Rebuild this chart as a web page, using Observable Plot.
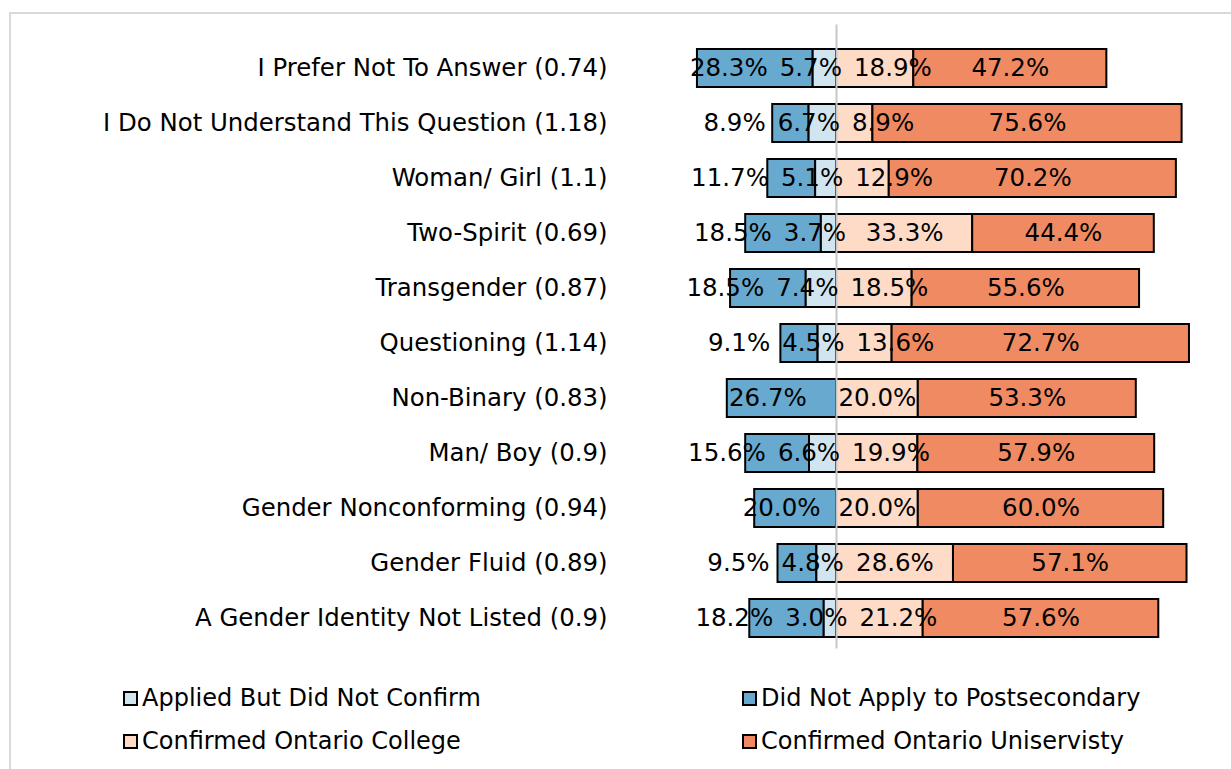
<!DOCTYPE html>
<html><head><meta charset="utf-8">
<script src="https://cdn.jsdelivr.net/npm/d3@7"></script>
<script src="https://cdn.jsdelivr.net/npm/@observablehq/plot@0.6"></script>
<style>
body{margin:0;background:#fff;font-family:"DejaVu Sans",Verdana,sans-serif;}
#frame{position:absolute;left:9px;top:12px;width:1400px;height:900px;border-top:2px solid #d9d9d9;border-left:2px solid #d9d9d9;}
#chart{position:absolute;left:0;top:0;}
.leg{position:absolute;font-size:24px;line-height:28px;color:#000;display:flex;align-items:center;white-space:nowrap;}
.sw{width:11px;height:11px;border:2px solid #000;margin-right:4px;}
</style></head><body>
<div id="frame"></div>
<div id="chart"></div>
<div id="legend"></div>
<script>
const categories = [
  "I Prefer Not To Answer (0.74)",
  "I Do Not Understand This Question (1.18)",
  "Woman/ Girl (1.1)",
  "Two-Spirit (0.69)",
  "Transgender (0.87)",
  "Questioning (1.14)",
  "Non-Binary (0.83)",
  "Man/ Boy (0.9)",
  "Gender Nonconforming (0.94)",
  "Gender Fluid (0.89)",
  "A Gender Identity Not Listed (0.9)"
];
const didNotApply       = [28.3, 8.9, 11.7, 18.5, 18.5, 9.1, 26.7, 15.6, 20.0, 9.5, 18.2];
const appliedNotConfirm = [5.7, 6.7, 5.1, 3.7, 7.4, 4.5, 0, 6.6, 0, 4.8, 3.0];
const college           = [18.9, 8.9, 12.9, 33.3, 18.5, 13.6, 20.0, 19.9, 20.0, 28.6, 21.2];
const university        = [47.2, 75.6, 70.2, 44.4, 55.6, 72.7, 53.3, 57.9, 60.0, 57.1, 57.6];

const seriesNames = ["Did Not Apply to Postsecondary", "Applied But Did Not Confirm", "Confirmed Ontario College", "Confirmed Ontario Uniservisty"];
const seriesColors = ["#67a9cf", "#d1e5f0", "#fddbc7", "#ef8a62"];
const legendOrder = [
  ["Applied But Did Not Confirm", "Did Not Apply to Postsecondary"],
  ["Confirmed Ontario College", "Confirmed Ontario Uniservisty"]
];

// layout constants
const W = 1231, H = 670;
const k = 4.09;          // px per percentage point
const zeroX = 836;
const xDomain = [-40, 90];
const labelFont = 24.5;
const catFont = 24.4;
const gap = 12;           // px between data labels
const leftShift = -14;    // px shift of left-side labels

const canvas = document.createElement("canvas");
const ctx = canvas.getContext("2d");
ctx.font = `${labelFont}px "DejaVu Sans"`;

const segs = [];
const labels = [];
categories.forEach((cat, i) => {
  const d = didNotApply[i], a = appliedNotConfirm[i], c = college[i], u = university[i];
  const mk = (series, x1, x2, v, left) => {
    const text = v.toFixed(1) + "%";
    const w = ctx.measureText(text).width / k;
    return {cat, series, x1, x2, v, text, w, pos: (x1 + x2) / 2 + (left ? leftShift / k : 0)};
  };
  const D = d > 0 ? mk(seriesNames[0], -(a + d), -a, d, true) : null;
  const A = a > 0 ? mk(seriesNames[1], -a, 0, a, true) : null;
  const C = c > 0 ? mk(seriesNames[2], 0, c, c, false) : null;
  const U = u > 0 ? mk(seriesNames[3], c, c + u, u, false) : null;
  const g = gap / k;
  // the label next to the axis stays; the others are pushed outward
  if (A) {
    if (D) D.pos = Math.min(D.pos, A.pos - A.w / 2 - g - D.w / 2);
    if (C) C.pos = Math.max(C.pos, A.pos + A.w / 2 + g + C.w / 2);
  } else if (D && C) {
    const over = (D.pos + D.w / 2 + g) - (C.pos - C.w / 2);
    if (over > 0) { D.pos -= over / 2; C.pos += over / 2; }
  }
  if (C && U) U.pos = Math.max(U.pos, C.pos + C.w / 2 + g + U.w / 2);
  [D, A, C, U].forEach(s => { if (s) { segs.push(s); labels.push(s); } });
});

const marginLeft = zeroX + xDomain[0] * k;
const marginRight = W - (zeroX + xDomain[1] * k);

const chart = Plot.plot({
  width: W,
  height: H,
  marginLeft,
  marginRight,
  marginTop: 29.6,
  marginBottom: 13.6,
  style: {fontFamily: "DejaVu Sans", fontSize: "24px", background: "transparent", color: "black"},
  x: {domain: xDomain, axis: null},
  y: {domain: categories, padding: 0.314, label: null},
  color: {domain: seriesNames, range: seriesColors},
  marks: [
    Plot.axisY({tickSize: 0, tickPadding: marginLeft - 607, fontSize: catFont, label: null}),
    Plot.barX(segs, {x1: "x1", x2: "x2", y: "cat", fill: "series", stroke: "black", strokeWidth: 2}),
    Plot.ruleX([0], {stroke: "#c8c8c8", strokeWidth: 2, insetTop: -5, insetBottom: 8}),
    Plot.text(labels, {x: "pos", y: "cat", text: "text", fontSize: labelFont, fill: "black"})
  ]
});
document.getElementById("chart").appendChild(chart);

// legend
const legend = document.getElementById("legend");
const legTops = [684, 727];
const legLefts = [123, 742];
legendOrder.forEach((r, ri) => r.forEach((name, ci) => {
  const div = document.createElement("div");
  div.className = "leg";
  div.style.top = legTops[ri] + "px";
  div.style.left = legLefts[ci] + "px";
  const sw = document.createElement("span");
  sw.className = "sw";
  sw.style.background = seriesColors[seriesNames.indexOf(name)];
  div.appendChild(sw);
  div.appendChild(document.createTextNode(name));
  legend.appendChild(div);
}));
</script>
</body></html>
